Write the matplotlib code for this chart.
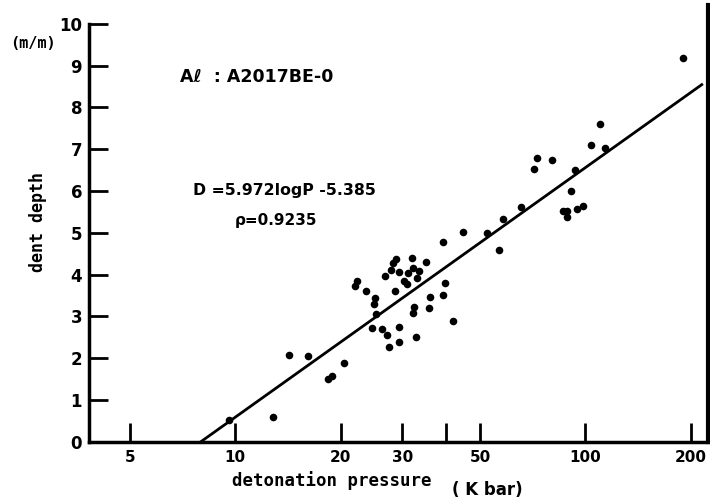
import numpy as np
import matplotlib
matplotlib.use("Agg")
import matplotlib.pyplot as plt
from matplotlib.ticker import FixedLocator, NullFormatter, FixedFormatter

# detonation pressure (K bar) and dent depth (mm)
pressure = [14.2, 16.1, 20.4, 18.9, 18.4, 9.6, 12.8,
            44.8, 39.3, 32.0, 28.7, 28.25, 35.1, 27.8, 29.4, 26.8, 32.1, 31.1,
            33.5, 33.1, 30.3, 31.0, 22.2, 22.0, 23.6, 28.6, 39.7, 39.3, 36.1,
            35.8, 25.1, 24.9, 32.3, 32.1, 25.2, 41.8, 24.5, 29.4, 26.3, 27.1,
            32.8, 29.4, 27.5,
            110.2, 103.7, 113.6, 72.8, 80.2, 71.2, 93.6, 90.9, 65.5, 58.3,
            52.5, 56.7, 98.6, 94.8, 86.2, 88.9, 88.9, 189.6]
depth = [2.07, 2.06, 1.89, 1.57, 1.49, 0.52, 0.59,
         5.01, 4.79, 4.40, 4.36, 4.28, 4.29, 4.11, 4.05, 3.96, 4.16, 4.03,
         4.09, 3.91, 3.84, 3.77, 3.84, 3.72, 3.61, 3.61, 3.79, 3.50, 3.47,
         3.20, 3.43, 3.29, 3.22, 3.07, 3.05, 2.89, 2.73, 2.74, 2.69, 2.55,
         2.50, 2.39, 2.27,
         7.60, 7.10, 7.04, 6.78, 6.74, 6.53, 6.49, 6.00, 5.61, 5.32,
         5.00, 4.58, 5.65, 5.58, 5.53, 5.53, 5.38, 9.19]

fit_slope = 5.972
fit_intercept = -5.385
fit_range = [7.97, 215.0]

xticks = [5, 10, 20, 30, 50, 100, 200]
xticklabels = ["5", "10", "20", "30", "50", "100", "200"]
xminor = [40]
yticks = [0, 1, 2, 3, 4, 5, 6, 7, 8, 9, 10]

fig = plt.figure(figsize=(7.10, 5.01), dpi=100)
ax = fig.add_axes([89/710, 1 - 441.7/501, (708 - 89)/710, (441.7 - 5)/501])

ax.scatter(pressure, depth, s=30, color="black", zorder=3, linewidths=0)
px = np.logspace(np.log10(fit_range[0]), np.log10(fit_range[1]), 50)
ax.plot(px, fit_slope * np.log10(px) + fit_intercept, color="black", lw=2.0)

ax.set_xscale("log")
ax.set_xlim(3.82, 224)
ax.set_ylim(0, 10.45)

ax.xaxis.set_major_locator(FixedLocator(xticks))
ax.xaxis.set_major_formatter(FixedFormatter(xticklabels))
ax.xaxis.set_minor_locator(FixedLocator(xminor))
ax.xaxis.set_minor_formatter(NullFormatter())
ax.yaxis.set_major_locator(FixedLocator(yticks))

ax.tick_params(axis="x", which="both", direction="in", length=14, width=2,
               labelsize=11, pad=6, top=False)
ax.tick_params(axis="y", which="both", direction="in", length=14, width=2,
               labelsize=12, pad=5, right=False)
for lab in ax.get_xticklabels() + ax.get_yticklabels():
    lab.set_fontweight("bold")

ax.spines["top"].set_visible(False)
ax.spines["left"].set_bounds(0, 10)
for s in ["left", "bottom"]:
    ax.spines[s].set_linewidth(2.5)
ax.spines["right"].set_linewidth(3)

fig.text(33/710, 1 - 43/501, "(m/m)", fontsize=11, fontweight="bold",
         ha="center", va="center", family="DejaVu Sans Mono")
fig.text(38/710, 1 - 222/501, "dent depth", fontsize=12, fontweight="bold",
         rotation=90, ha="center", va="center", family="DejaVu Sans Mono")
fig.text(332/710, 1 - 481/501, "detonation pressure", fontsize=12.5,
         fontweight="bold", ha="center", va="center", family="DejaVu Sans Mono")
fig.text(487/710, 1 - 490/501, "( K bar)", fontsize=12, fontweight="bold",
         ha="center", va="center")

fig.text(180/710, 1 - 77/501, "Aℓ  : A2017BE-0", fontsize=12.5,
         fontweight="bold", ha="left", va="center")
fig.text(193/710, 1 - 190/501, "D =5.972logP -5.385", fontsize=11.3,
         fontweight="bold", ha="left", va="center")
fig.text(235/710, 1 - 221/501, "ρ=0.9235", fontsize=11,
         fontweight="bold", ha="left", va="center")

fig.savefig("out.png", dpi=100)
